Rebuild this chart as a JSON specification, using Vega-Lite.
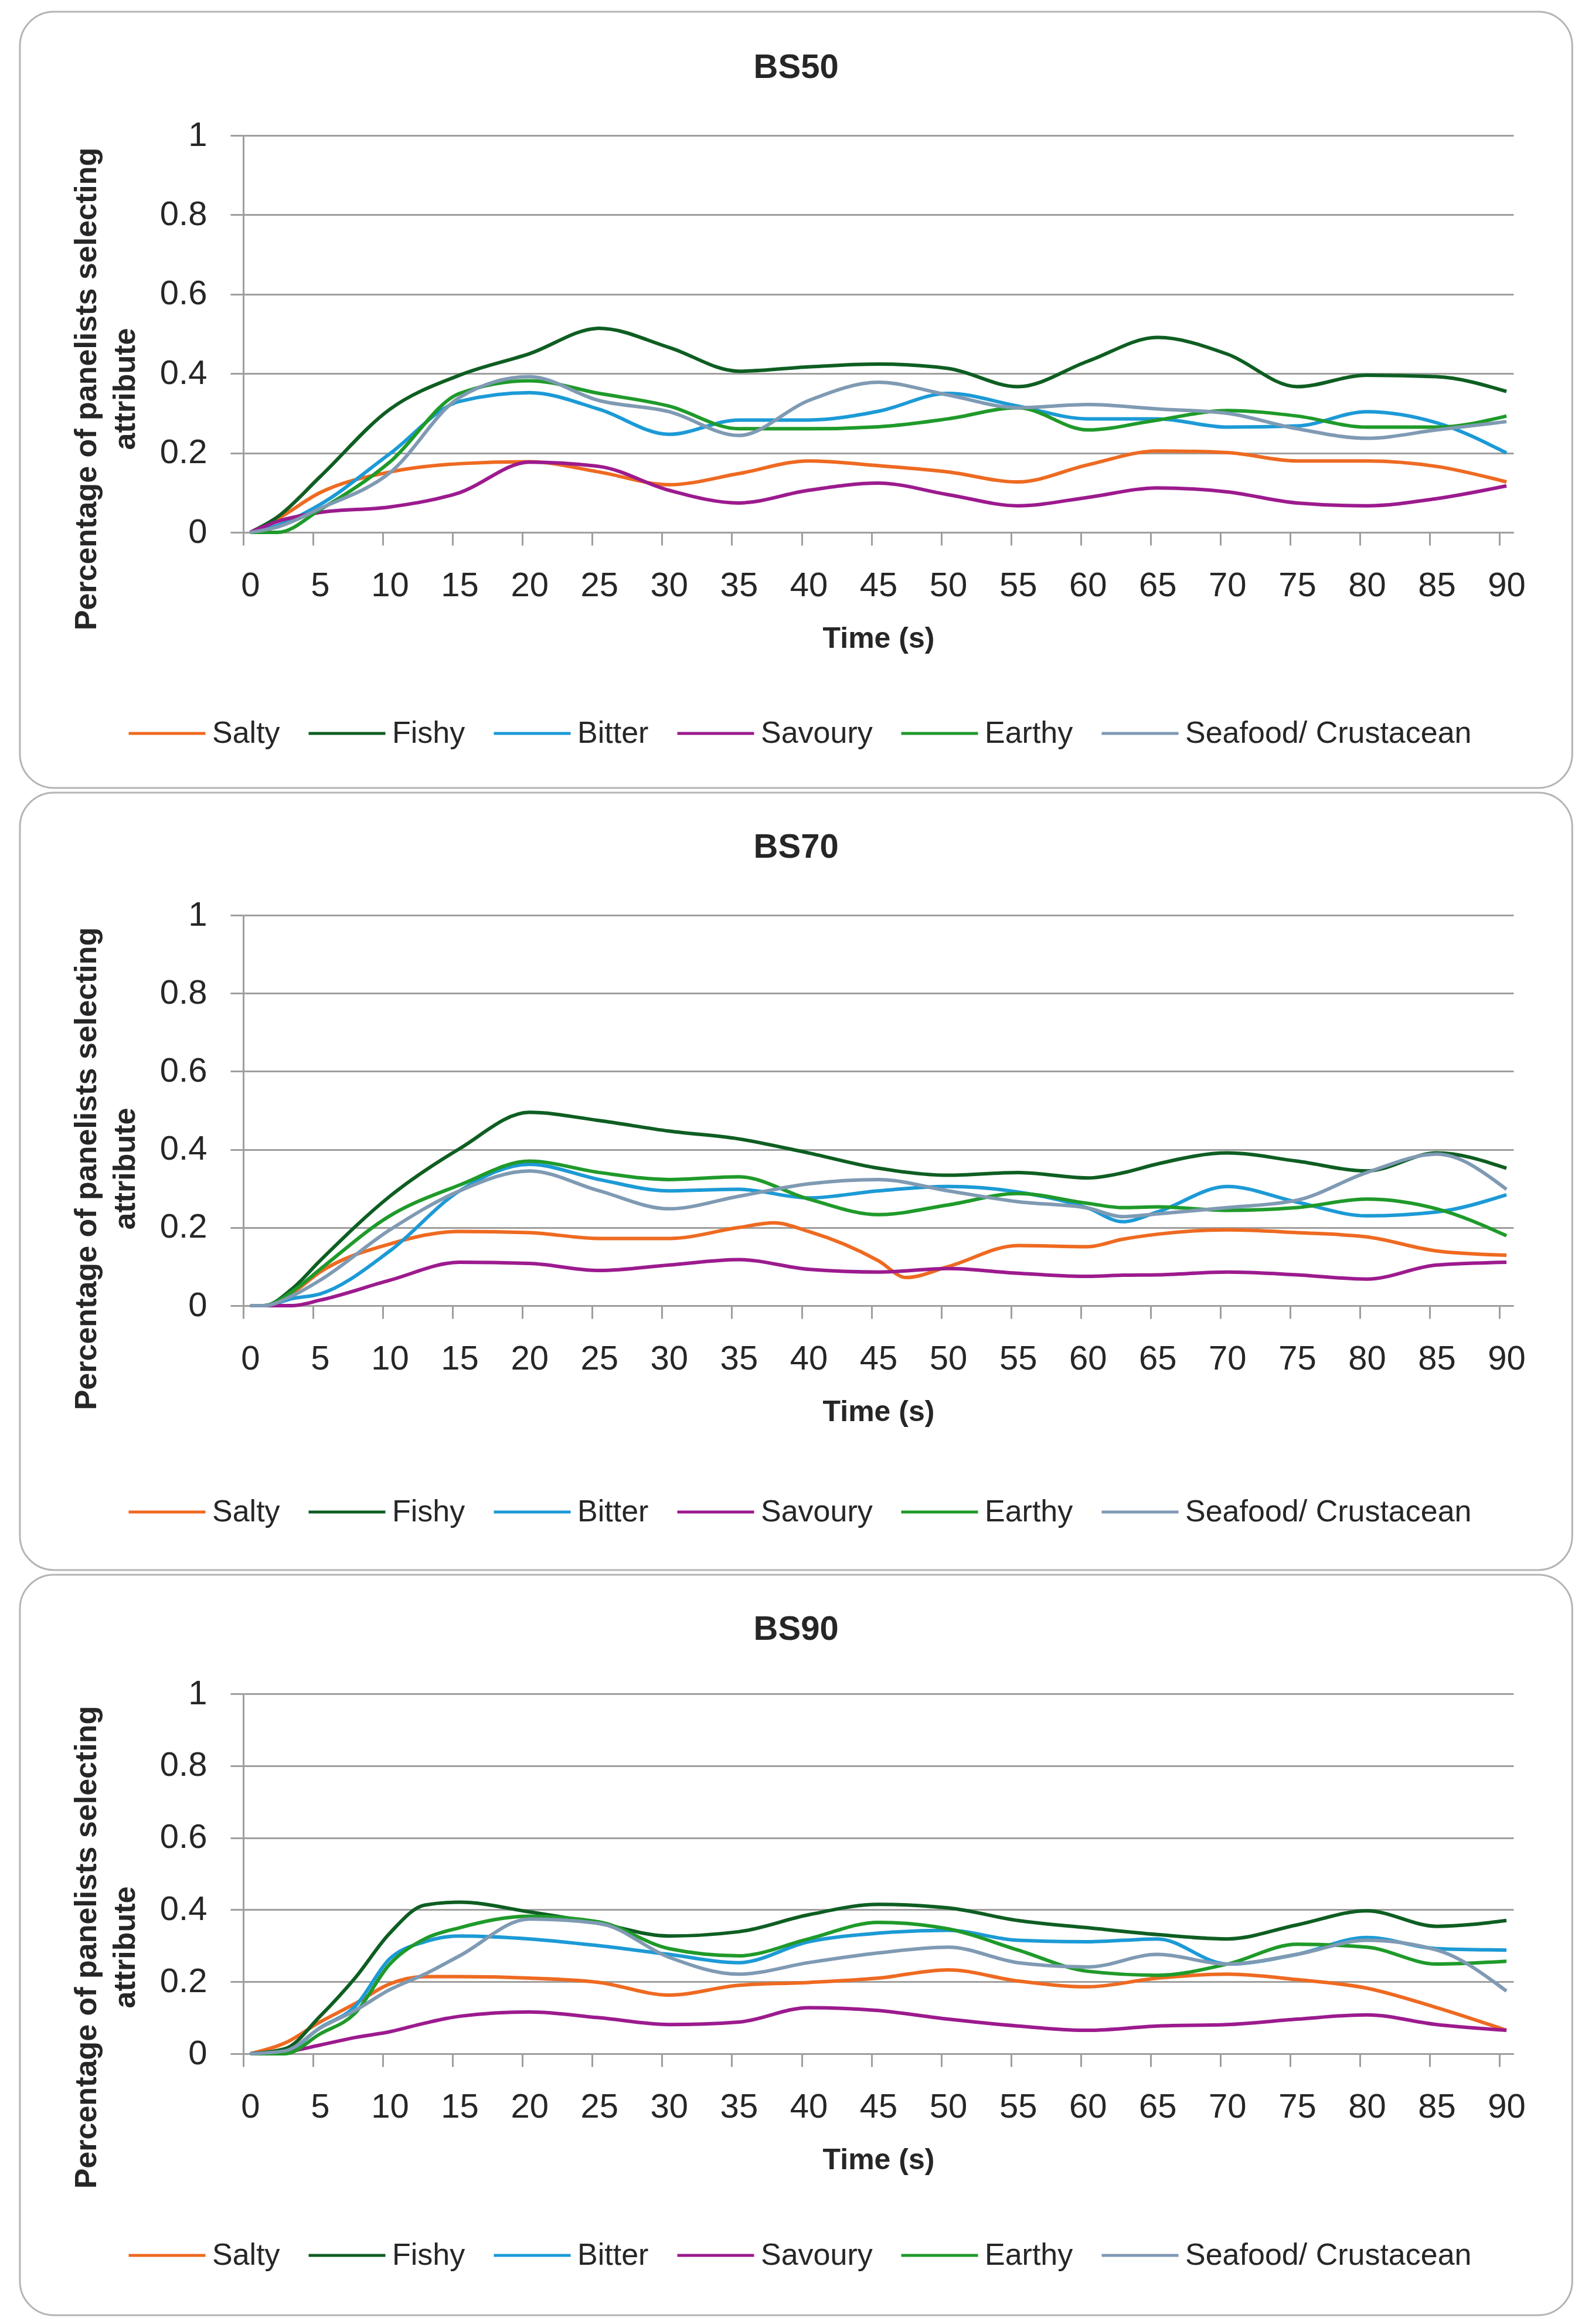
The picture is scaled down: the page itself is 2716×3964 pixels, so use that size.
{
  "$schema": "https://vega.github.io/schema/vega-lite/v6.json",
  "background": "white",
  "padding": {"left": 32, "top": 18, "right": 0, "bottom": 0},
  "spacing": 4,
  "datasets": {
    "bs50": [
      {"t": 0, "Salty": 0, "Fishy": 0, "Bitter": 0, "Savoury": 0, "Earthy": 0, "Seafood/ Crustacean": 0},
      {"t": 2, "Salty": 0.035, "Fishy": 0.04, "Bitter": 0.018, "Savoury": 0.028, "Earthy": 0, "Seafood/ Crustacean": 0.014},
      {"t": 5, "Salty": 0.1, "Fishy": 0.14, "Bitter": 0.07, "Savoury": 0.05, "Earthy": 0.057, "Seafood/ Crustacean": 0.06},
      {"t": 10, "Salty": 0.152, "Fishy": 0.31, "Bitter": 0.198, "Savoury": 0.064, "Earthy": 0.177, "Seafood/ Crustacean": 0.15},
      {"t": 15, "Salty": 0.173, "Fishy": 0.396, "Bitter": 0.33, "Savoury": 0.1, "Earthy": 0.35, "Seafood/ Crustacean": 0.34},
      {"t": 20, "Salty": 0.178, "Fishy": 0.45, "Bitter": 0.352, "Savoury": 0.177, "Earthy": 0.382, "Seafood/ Crustacean": 0.392},
      {"t": 25, "Salty": 0.152, "Fishy": 0.514, "Bitter": 0.31, "Savoury": 0.166, "Earthy": 0.35, "Seafood/ Crustacean": 0.332},
      {"t": 30, "Salty": 0.12, "Fishy": 0.466, "Bitter": 0.247, "Savoury": 0.106, "Earthy": 0.318, "Seafood/ Crustacean": 0.304},
      {"t": 35, "Salty": 0.148, "Fishy": 0.406, "Bitter": 0.283, "Savoury": 0.074, "Earthy": 0.261, "Seafood/ Crustacean": 0.244},
      {"t": 40, "Salty": 0.18, "Fishy": 0.417, "Bitter": 0.283, "Savoury": 0.106, "Earthy": 0.261, "Seafood/ Crustacean": 0.332},
      {"t": 45, "Salty": 0.168, "Fishy": 0.424, "Bitter": 0.305, "Savoury": 0.124, "Earthy": 0.266, "Seafood/ Crustacean": 0.378},
      {"t": 50, "Salty": 0.152, "Fishy": 0.413, "Bitter": 0.35, "Savoury": 0.095, "Earthy": 0.286, "Seafood/ Crustacean": 0.346},
      {"t": 55, "Salty": 0.127, "Fishy": 0.367, "Bitter": 0.318, "Savoury": 0.067, "Earthy": 0.314, "Seafood/ Crustacean": 0.314},
      {"t": 60, "Salty": 0.17, "Fishy": 0.431, "Bitter": 0.286, "Savoury": 0.088, "Earthy": 0.258, "Seafood/ Crustacean": 0.322},
      {"t": 65, "Salty": 0.205, "Fishy": 0.491, "Bitter": 0.286, "Savoury": 0.112, "Earthy": 0.283, "Seafood/ Crustacean": 0.311},
      {"t": 70, "Salty": 0.201, "Fishy": 0.449, "Bitter": 0.265, "Savoury": 0.102, "Earthy": 0.307, "Seafood/ Crustacean": 0.3},
      {"t": 75, "Salty": 0.18, "Fishy": 0.367, "Bitter": 0.268, "Savoury": 0.074, "Earthy": 0.293, "Seafood/ Crustacean": 0.261},
      {"t": 80, "Salty": 0.18, "Fishy": 0.396, "Bitter": 0.304, "Savoury": 0.067, "Earthy": 0.265, "Seafood/ Crustacean": 0.237},
      {"t": 85, "Salty": 0.166, "Fishy": 0.392, "Bitter": 0.276, "Savoury": 0.085, "Earthy": 0.265, "Seafood/ Crustacean": 0.258},
      {"t": 90, "Salty": 0.127, "Fishy": 0.355, "Bitter": 0.2, "Savoury": 0.117, "Earthy": 0.293, "Seafood/ Crustacean": 0.279}
    ],
    "bs70": [
      {"t": 0, "Salty": 0, "Fishy": 0, "Bitter": 0, "Savoury": 0, "Earthy": 0, "Seafood/ Crustacean": 0},
      {"t": 1, "Salty": 0, "Fishy": 0, "Bitter": 0, "Savoury": 0, "Earthy": 0, "Seafood/ Crustacean": 0},
      {"t": 3, "Salty": 0.032, "Fishy": 0.043, "Bitter": 0.018, "Savoury": 0, "Earthy": 0.036, "Seafood/ Crustacean": 0.025},
      {"t": 5, "Salty": 0.086, "Fishy": 0.115, "Bitter": 0.03, "Savoury": 0.014, "Earthy": 0.093, "Seafood/ Crustacean": 0.065},
      {"t": 10, "Salty": 0.158, "Fishy": 0.28, "Bitter": 0.14, "Savoury": 0.065, "Earthy": 0.23, "Seafood/ Crustacean": 0.194},
      {"t": 15, "Salty": 0.19, "Fishy": 0.402, "Bitter": 0.294, "Savoury": 0.111, "Earthy": 0.309, "Seafood/ Crustacean": 0.294},
      {"t": 20, "Salty": 0.187, "Fishy": 0.495, "Bitter": 0.362, "Savoury": 0.108, "Earthy": 0.37, "Seafood/ Crustacean": 0.345},
      {"t": 25, "Salty": 0.172, "Fishy": 0.474, "Bitter": 0.323, "Savoury": 0.09, "Earthy": 0.341, "Seafood/ Crustacean": 0.294},
      {"t": 30, "Salty": 0.172, "Fishy": 0.447, "Bitter": 0.294, "Savoury": 0.104, "Earthy": 0.323, "Seafood/ Crustacean": 0.248},
      {"t": 35, "Salty": 0.2, "Fishy": 0.427, "Bitter": 0.298, "Savoury": 0.118, "Earthy": 0.33, "Seafood/ Crustacean": 0.28},
      {"t": 37.5, "Salty": 0.212, "Fishy": null, "Bitter": null, "Savoury": null, "Earthy": null, "Seafood/ Crustacean": null},
      {"t": 40, "Salty": 0.19, "Fishy": 0.391, "Bitter": 0.276, "Savoury": 0.093, "Earthy": 0.273, "Seafood/ Crustacean": 0.312},
      {"t": 45, "Salty": 0.115, "Fishy": 0.352, "Bitter": 0.294, "Savoury": 0.086, "Earthy": 0.233, "Seafood/ Crustacean": 0.323},
      {"t": 47, "Salty": 0.072, "Fishy": null, "Bitter": null, "Savoury": null, "Earthy": null, "Seafood/ Crustacean": null},
      {"t": 50, "Salty": 0.1, "Fishy": 0.334, "Bitter": 0.305, "Savoury": 0.095, "Earthy": 0.258, "Seafood/ Crustacean": 0.294},
      {"t": 55, "Salty": 0.154, "Fishy": 0.341, "Bitter": 0.291, "Savoury": 0.083, "Earthy": 0.287, "Seafood/ Crustacean": 0.266},
      {"t": 60, "Salty": 0.151, "Fishy": 0.327, "Bitter": 0.25, "Savoury": 0.075, "Earthy": 0.262, "Seafood/ Crustacean": 0.25},
      {"t": 62.5, "Salty": 0.17, "Fishy": 0.34, "Bitter": 0.215, "Savoury": 0.078, "Earthy": 0.251, "Seafood/ Crustacean": 0.228},
      {"t": 65, "Salty": 0.183, "Fishy": 0.363, "Bitter": 0.24, "Savoury": 0.079, "Earthy": 0.253, "Seafood/ Crustacean": 0.235},
      {"t": 70, "Salty": 0.194, "Fishy": 0.391, "Bitter": 0.305, "Savoury": 0.086, "Earthy": 0.244, "Seafood/ Crustacean": 0.251},
      {"t": 75, "Salty": 0.187, "Fishy": 0.37, "Bitter": 0.265, "Savoury": 0.079, "Earthy": 0.251, "Seafood/ Crustacean": 0.27},
      {"t": 80, "Salty": 0.176, "Fishy": 0.345, "Bitter": 0.23, "Savoury": 0.068, "Earthy": 0.273, "Seafood/ Crustacean": 0.341},
      {"t": 85, "Salty": 0.14, "Fishy": 0.391, "Bitter": 0.24, "Savoury": 0.104, "Earthy": 0.248, "Seafood/ Crustacean": 0.388},
      {"t": 90, "Salty": 0.129, "Fishy": 0.352, "Bitter": 0.284, "Savoury": 0.111, "Earthy": 0.179, "Seafood/ Crustacean": 0.298}
    ],
    "bs90": [
      {"t": 0, "Salty": 0, "Fishy": 0, "Bitter": 0, "Savoury": 0, "Earthy": 0, "Seafood/ Crustacean": 0},
      {"t": 2.5, "Salty": 0.03, "Fishy": 0.014, "Bitter": 0.006, "Savoury": 0.005, "Earthy": 0, "Seafood/ Crustacean": 0.008},
      {"t": 5, "Salty": 0.088, "Fishy": 0.104, "Bitter": 0.072, "Savoury": 0.024, "Earthy": 0.055, "Seafood/ Crustacean": 0.071},
      {"t": 7.5, "Salty": 0.139, "Fishy": 0.21, "Bitter": 0.131, "Savoury": 0.045, "Earthy": 0.112, "Seafood/ Crustacean": 0.12},
      {"t": 10, "Salty": 0.194, "Fishy": 0.335, "Bitter": 0.264, "Savoury": 0.061, "Earthy": 0.249, "Seafood/ Crustacean": 0.178},
      {"t": 12.5, "Salty": 0.214, "Fishy": 0.413, "Bitter": 0.311, "Savoury": 0.085, "Earthy": 0.319, "Seafood/ Crustacean": 0.221},
      {"t": 15, "Salty": 0.214, "Fishy": 0.421, "Bitter": 0.327, "Savoury": 0.104, "Earthy": 0.35, "Seafood/ Crustacean": 0.272},
      {"t": 20, "Salty": 0.21, "Fishy": 0.394, "Bitter": 0.319, "Savoury": 0.116, "Earthy": 0.382, "Seafood/ Crustacean": 0.374},
      {"t": 25, "Salty": 0.198, "Fishy": 0.362, "Bitter": 0.3, "Savoury": 0.1, "Earthy": 0.366, "Seafood/ Crustacean": 0.362},
      {"t": 30, "Salty": 0.163, "Fishy": 0.327, "Bitter": 0.276, "Savoury": 0.081, "Earthy": 0.292, "Seafood/ Crustacean": 0.268},
      {"t": 35, "Salty": 0.19, "Fishy": 0.339, "Bitter": 0.253, "Savoury": 0.088, "Earthy": 0.272, "Seafood/ Crustacean": 0.221},
      {"t": 40, "Salty": 0.198, "Fishy": 0.386, "Bitter": 0.311, "Savoury": 0.128, "Earthy": 0.319, "Seafood/ Crustacean": 0.253},
      {"t": 45, "Salty": 0.21, "Fishy": 0.415, "Bitter": 0.335, "Savoury": 0.12, "Earthy": 0.365, "Seafood/ Crustacean": 0.28},
      {"t": 50, "Salty": 0.233, "Fishy": 0.405, "Bitter": 0.343, "Savoury": 0.096, "Earthy": 0.347, "Seafood/ Crustacean": 0.296},
      {"t": 55, "Salty": 0.202, "Fishy": 0.37, "Bitter": 0.315, "Savoury": 0.077, "Earthy": 0.288, "Seafood/ Crustacean": 0.253},
      {"t": 60, "Salty": 0.186, "Fishy": 0.35, "Bitter": 0.311, "Savoury": 0.065, "Earthy": 0.229, "Seafood/ Crustacean": 0.241},
      {"t": 65, "Salty": 0.21, "Fishy": 0.331, "Bitter": 0.319, "Savoury": 0.077, "Earthy": 0.218, "Seafood/ Crustacean": 0.276},
      {"t": 70, "Salty": 0.221, "Fishy": 0.319, "Bitter": 0.249, "Savoury": 0.081, "Earthy": 0.249, "Seafood/ Crustacean": 0.249},
      {"t": 75, "Salty": 0.206, "Fishy": 0.358, "Bitter": 0.276, "Savoury": 0.096, "Earthy": 0.304, "Seafood/ Crustacean": 0.276},
      {"t": 80, "Salty": 0.182, "Fishy": 0.397, "Bitter": 0.323, "Savoury": 0.108, "Earthy": 0.296, "Seafood/ Crustacean": 0.315},
      {"t": 85, "Salty": 0.128, "Fishy": 0.354, "Bitter": 0.292, "Savoury": 0.081, "Earthy": 0.249, "Seafood/ Crustacean": 0.288},
      {"t": 90, "Salty": 0.065, "Fishy": 0.37, "Bitter": 0.288, "Savoury": 0.065, "Earthy": 0.257, "Seafood/ Crustacean": 0.174}
    ]
  },
  "vconcat": [
    {
      "title": {"text": "BS50", "offset": -127},
      "width": 2167,
      "height": 677,
      "layer": [
        {
          "data": {"name": "bs50"},
          "transform": [
            {"fold": ["Salty", "Fishy", "Bitter", "Savoury", "Earthy", "Seafood/ Crustacean"], "as": ["attr", "v"]},
            {"filter": "isValid(datum.v)"}
          ],
          "mark": {"type": "line", "interpolate": "monotone", "strokeWidth": 6},
          "encoding": {
            "x": {
              "field": "t", "type": "quantitative",
              "scale": {"domain": [-0.5, 90.5], "nice": false, "zero": false},
              "axis": {"values": [0, 5, 10, 15, 20, 25, 30, 35, 40, 45, 50, 55, 60, 65, 70, 75, 80, 85, 90], "title": "Time (s)", "grid": false, "tickOffset": -11.9, "labelOffset": 11.9, "titleY": 196}
            },
            "y": {
              "field": "v", "type": "quantitative",
              "scale": {"domain": [0, 1], "nice": false},
              "axis": {"values": [0, 0.2, 0.4, 0.6, 0.8, 1], "format": ".1~f", "title": ["Percentage of panelists selecting", "attribute"]}
            },
            "color": {
              "field": "attr", "type": "nominal",
              "scale": {"domain": ["Salty", "Fishy", "Bitter", "Savoury", "Earthy", "Seafood/ Crustacean"], "range": ["#ee6a21", "#0e5e22", "#1c9ad6", "#9c1a8e", "#1f9a2a", "#7f9ab3"]},
              "legend": {"orient": "none", "legendX": -198, "legendY": 952, "direction": "horizontal", "columns": 6, "title": null}
            }
          }
        },
        {
          "data": {"values": [{"panel": "BS50"}]},
          "mark": {"type": "rect", "fill": "white", "fillOpacity": 0, "stroke": "#b4b4b4", "strokeWidth": 3, "cornerRadius": 58, "clip": false},
          "encoding": {
            "x": {"datum": -16.5, "type": "quantitative"},
            "x2": {"datum": 94.71},
            "y": {"datum": 1.3117, "type": "quantitative"},
            "y2": {"datum": -0.644}
          }
        }
      ]
    },
    {
      "title": {"text": "BS70", "offset": -124},
      "width": 2167,
      "height": 666,
      "layer": [
        {
          "data": {"name": "bs70"},
          "transform": [
            {"fold": ["Salty", "Fishy", "Bitter", "Savoury", "Earthy", "Seafood/ Crustacean"], "as": ["attr", "v"]},
            {"filter": "isValid(datum.v)"}
          ],
          "mark": {"type": "line", "interpolate": "monotone", "strokeWidth": 6},
          "encoding": {
            "x": {
              "field": "t", "type": "quantitative",
              "scale": {"domain": [-0.5, 90.5], "nice": false, "zero": false},
              "axis": {"values": [0, 5, 10, 15, 20, 25, 30, 35, 40, 45, 50, 55, 60, 65, 70, 75, 80, 85, 90], "title": "Time (s)", "grid": false, "tickOffset": -11.9, "labelOffset": 11.9, "titleY": 196}
            },
            "y": {
              "field": "v", "type": "quantitative",
              "scale": {"domain": [0, 1], "nice": false},
              "axis": {"values": [0, 0.2, 0.4, 0.6, 0.8, 1], "format": ".1~f", "title": ["Percentage of panelists selecting", "attribute"]}
            },
            "color": {
              "field": "attr", "type": "nominal",
              "scale": {"domain": ["Salty", "Fishy", "Bitter", "Savoury", "Earthy", "Seafood/ Crustacean"], "range": ["#ee6a21", "#0e5e22", "#1c9ad6", "#9c1a8e", "#1f9a2a", "#7f9ab3"]},
              "legend": {"orient": "none", "legendX": -198, "legendY": 950, "direction": "horizontal", "columns": 6, "title": null}
            }
          }
        },
        {
          "data": {"values": [{"panel": "BS70"}]},
          "mark": {"type": "rect", "fill": "white", "fillOpacity": 0, "stroke": "#b4b4b4", "strokeWidth": 3, "cornerRadius": 58, "clip": false},
          "encoding": {
            "x": {"datum": -16.5, "type": "quantitative"},
            "x2": {"datum": 94.71},
            "y": {"datum": 1.3138, "type": "quantitative"},
            "y2": {"datum": -0.677}
          }
        }
      ]
    },
    {
      "title": {"text": "BS90", "offset": -124},
      "width": 2167,
      "height": 614,
      "layer": [
        {
          "data": {"name": "bs90"},
          "transform": [
            {"fold": ["Salty", "Fishy", "Bitter", "Savoury", "Earthy", "Seafood/ Crustacean"], "as": ["attr", "v"]},
            {"filter": "isValid(datum.v)"}
          ],
          "mark": {"type": "line", "interpolate": "monotone", "strokeWidth": 6},
          "encoding": {
            "x": {
              "field": "t", "type": "quantitative",
              "scale": {"domain": [-0.5, 90.5], "nice": false, "zero": false},
              "axis": {"values": [0, 5, 10, 15, 20, 25, 30, 35, 40, 45, 50, 55, 60, 65, 70, 75, 80, 85, 90], "title": "Time (s)", "grid": false, "tickOffset": -11.9, "labelOffset": 11.9, "titleY": 196}
            },
            "y": {
              "field": "v", "type": "quantitative",
              "scale": {"domain": [0, 1], "nice": false},
              "axis": {"values": [0, 0.2, 0.4, 0.6, 0.8, 1], "format": ".1~f", "title": ["Percentage of panelists selecting", "attribute"]}
            },
            "color": {
              "field": "attr", "type": "nominal",
              "scale": {"domain": ["Salty", "Fishy", "Bitter", "Savoury", "Earthy", "Seafood/ Crustacean"], "range": ["#ee6a21", "#0e5e22", "#1c9ad6", "#9c1a8e", "#1f9a2a", "#7f9ab3"]},
              "legend": {"orient": "none", "legendX": -198, "legendY": 890, "direction": "horizontal", "columns": 6, "title": null}
            }
          }
        },
        {
          "data": {"values": [{"panel": "BS90"}]},
          "mark": {"type": "rect", "fill": "white", "fillOpacity": 0, "stroke": "#b4b4b4", "strokeWidth": 3, "cornerRadius": 58, "clip": false},
          "encoding": {
            "x": {"datum": -16.5, "type": "quantitative"},
            "x2": {"datum": 94.71},
            "y": {"datum": 1.3306, "type": "quantitative"},
            "y2": {"datum": -0.7264}
          }
        }
      ]
    }
  ],
  "resolve": {"legend": {"color": "independent"}},
  "config": {
    "font": "Liberation Sans",
    "view": {"stroke": null},
    "axis": {
      "domainColor": "#9e9e9e", "domainWidth": 3,
      "tickColor": "#9e9e9e", "tickWidth": 3, "tickSize": 22,
      "gridColor": "#9e9e9e", "gridWidth": 3,
      "labelFont": "Liberation Sans", "labelFontSize": 58, "labelColor": "#262626", "labelPadding": 40,
      "labelFlush": false, "labelOverlap": false,
      "titleFont": "Liberation Sans", "titleFontWeight": "bold", "titleColor": "#262626"
    },
    "axisX": {"titleFontSize": 50, "titleBaseline": "alphabetic"},
    "axisY": {"titleFontSize": 52, "titleX": -268, "titleY": 432, "titleAngle": -90, "titleAlign": "center", "titleBaseline": "middle", "titleLineHeight": 66},
    "legend": {
      "labelFont": "Liberation Sans", "labelFontSize": 52, "labelColor": "#262626", "labelLimit": 0,
      "symbolType": "stroke", "symbolSize": 17161, "symbolStrokeWidth": 5,
      "labelOffset": 9, "columnPadding": 38, "padding": 0
    },
    "title": {"font": "Liberation Sans", "fontSize": 58, "fontWeight": "bold", "color": "#262626", "anchor": "middle", "frame": "bounds", "baseline": "alphabetic"}
  }
}
